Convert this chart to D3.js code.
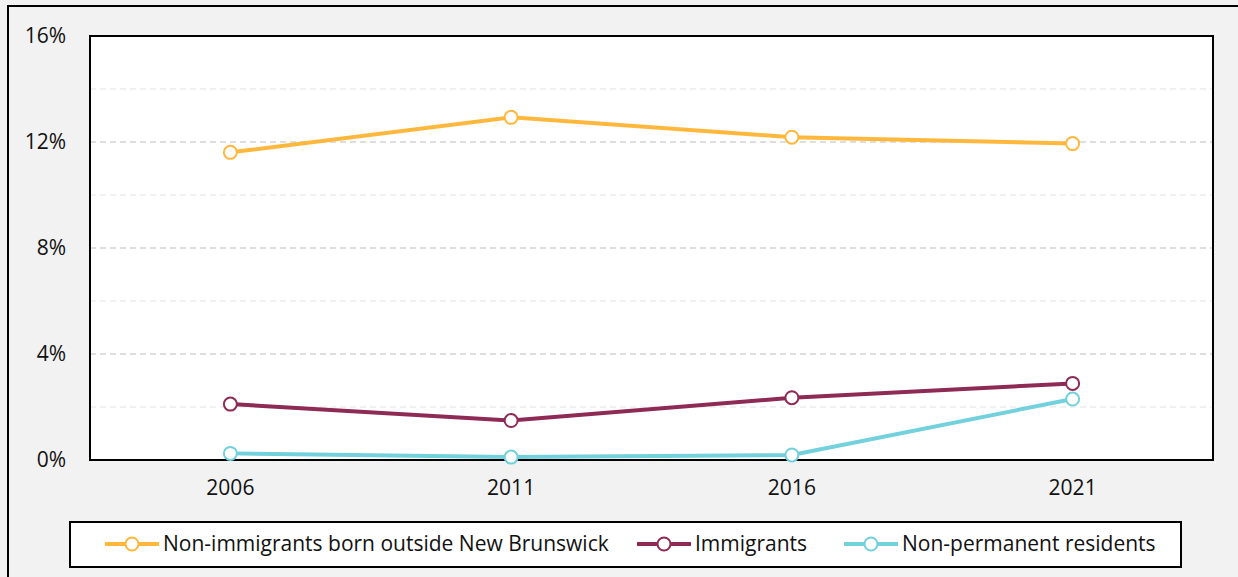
<!DOCTYPE html>
<html lang="en">
  <head>
    <meta charset="utf-8">
    <title>Population share by place of birth</title>
    <script src="https://d3js.org/d3.v7.min.js"></script>
    <style type="text/css">
      html, body {
        margin: 0;
        overflow: hidden;
        background-color: #F2F2F2;
        font-family: 'Open Sans', sans-serif;
      }
      svg {
        display: block;
      }
      .tick text {
        font-family: 'Open Sans', sans-serif;
        font-size: 21px;
        fill: #111111;
      }
      .legend text {
        font-size: 21px;
        fill: #111111;
      }
    </style>
  </head>
  <body>
  </body>
  <script type="text/javascript">
    // Data
    var years = ["2006", "2011", "2016", "2021"];
    var nonImmigrantsOutsideNB = [11.61, 12.93, 12.18, 11.94];
    var immigrants = [2.11, 1.49, 2.35, 2.89];
    var nonPermanentResidents = [0.25, 0.11, 0.19, 2.30];
    var yTicks = [0, 4, 8, 12, 16];
    var yMinorTicks = [2, 6, 10, 14];

    var seriesNames = ["Non-immigrants born outside New Brunswick", "Immigrants", "Non-permanent residents"];
    var seriesColors = ["#FFB83C", "#8E2A56", "#72D1DD"];
    var seriesValues = [nonImmigrantsOutsideNB, immigrants, nonPermanentResidents];

    var W = 1238, H = 577;
    var plot = {left: 90, top: 36, right: 1213, bottom: 460};

    var svg = d3.select("body").append("svg")
        .attr("width", W)
        .attr("height", H);

    // outer chart frame (runs off the right and bottom edges)
    svg.append("rect")
        .attr("x", 8).attr("y", 6)
        .attr("width", W + 20).attr("height", H + 20)
        .attr("fill", "#F2F2F2")
        .attr("stroke", "#000").attr("stroke-width", 2);

    var xScale = d3.scaleBand()
        .domain(years)
        .range([plot.left, plot.right]);

    var yScale = d3.scaleLinear()
        .domain([0, 16])
        .range([plot.bottom, plot.top]);

    svg.append("rect")
        .attr("x", plot.left).attr("y", plot.top)
        .attr("width", plot.right - plot.left)
        .attr("height", plot.bottom - plot.top)
        .attr("fill", "#FFFFFF");

    // gridlines
    svg.append("g")
        .selectAll("line")
        .data(yMinorTicks)
      .enter().append("line")
        .attr("x1", plot.left).attr("x2", plot.right)
        .attr("y1", function(d) { return yScale(d); })
        .attr("y2", function(d) { return yScale(d); })
        .attr("stroke", "#EDEDED")
        .attr("stroke-width", 1.5)
        .attr("stroke-dasharray", "6,4");

    svg.append("g")
        .selectAll("line")
        .data(yTicks.slice(1, -1))
      .enter().append("line")
        .attr("x1", plot.left).attr("x2", plot.right)
        .attr("y1", function(d) { return yScale(d); })
        .attr("y2", function(d) { return yScale(d); })
        .attr("stroke", "#D4D4D4")
        .attr("stroke-width", 1.5)
        .attr("stroke-dasharray", "6,4");

    // axes
    var yAxis = svg.append("g")
        .attr("transform", "translate(" + (plot.left - 21) + ",0)")
        .call(d3.axisLeft(yScale)
            .tickValues(yTicks)
            .tickSize(0)
            .tickFormat(function(d) { return d + "%"; }));
    yAxis.select(".domain").remove();

    var xAxis = svg.append("g")
        .attr("transform", "translate(0," + (plot.bottom + 20) + ")")
        .call(d3.axisBottom(xScale).tickSize(0));
    xAxis.select(".domain").remove();
    xAxis.selectAll("text").attr("dy", "0.55em");

    svg.append("rect")
        .attr("x", plot.left).attr("y", plot.top)
        .attr("width", plot.right - plot.left)
        .attr("height", plot.bottom - plot.top)
        .attr("fill", "none")
        .attr("stroke", "#000").attr("stroke-width", 2);

    var line = d3.line()
        .x(function(d, i) { return xScale(years[i]) + xScale.bandwidth() / 2; })
        .y(function(d) { return yScale(d); });

    seriesValues.forEach(function(values, s) {
      svg.append("path")
          .datum(values)
          .attr("fill", "none")
          .attr("stroke", seriesColors[s])
          .attr("stroke-width", 4)
          .attr("d", line);
    });

    seriesValues.forEach(function(values, s) {
      svg.append("g")
          .selectAll("circle")
          .data(values)
        .enter().append("circle")
          .attr("cx", function(d, i) { return xScale(years[i]) + xScale.bandwidth() / 2; })
          .attr("cy", function(d) { return yScale(d); })
          .attr("r", 6.5)
          .attr("fill", "#FFFFFF")
          .attr("stroke", seriesColors[s])
          .attr("stroke-width", 2);
    });

    // legend
    var legend = svg.append("g").attr("class", "legend");
    legend.append("rect")
        .attr("x", 70).attr("y", 522)
        .attr("width", 1111).attr("height", 45)
        .attr("fill", "#FFFFFF")
        .attr("stroke", "#000").attr("stroke-width", 2);

    var legendX = [105, 637, 844];
    seriesNames.forEach(function(name, s) {
      var g = legend.append("g")
          .attr("transform", "translate(" + legendX[s] + ",544)");
      g.append("line")
          .attr("x1", 0).attr("x2", 54)
          .attr("stroke", seriesColors[s])
          .attr("stroke-width", 4);
      g.append("circle")
          .attr("cx", 27).attr("r", 6.5)
          .attr("fill", "#FFFFFF")
          .attr("stroke", seriesColors[s])
          .attr("stroke-width", 2);
      g.append("text")
          .attr("x", 58)
          .attr("dy", "0.35em")
          .text(name);
    });
  </script>
</html>
